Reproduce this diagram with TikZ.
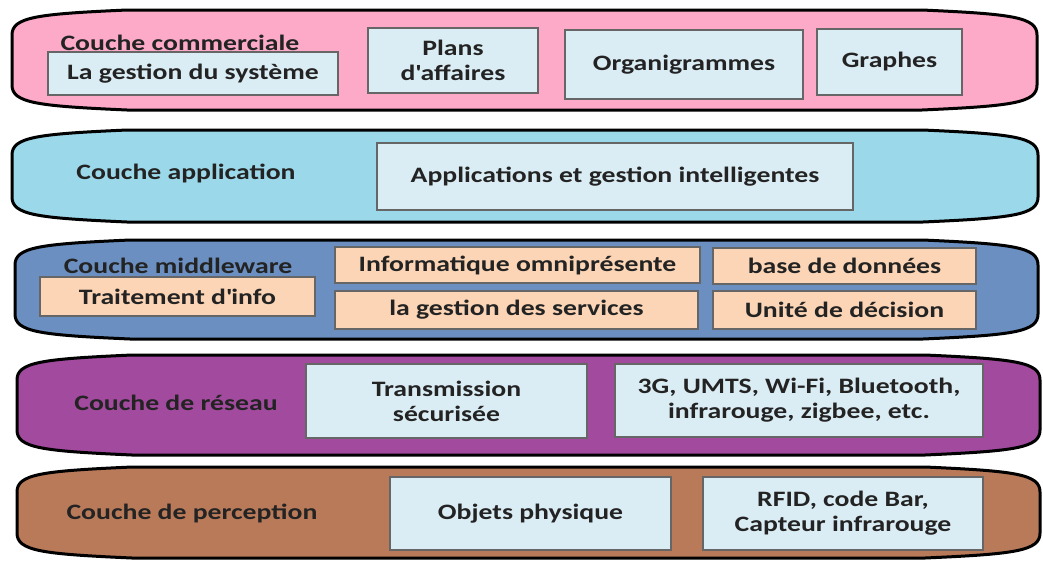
\documentclass[tikz,border=0pt]{standalone}
\usepackage{fontspec}
\setmainfont{Carlito}[FakeStretch=1.26]
\definecolor{pinkband}{RGB}{252,170,200}
\definecolor{cyanband}{RGB}{155,216,233}
\definecolor{blueband}{RGB}{106,143,192}
\definecolor{purpleband}{RGB}{162,74,158}
\definecolor{brownband}{RGB}{185,122,90}
\definecolor{lightbox}{RGB}{219,237,244}
\definecolor{peachbox}{RGB}{251,213,181}
\definecolor{txt}{RGB}{35,35,35}
\newcommand\bandshape[4]{% L T R B
  (#1+115,#2) -- (#3-115,#2)
  .. controls (#3-25,#2+4) and (#3,#2+7) .. (#3,#2+25)
  -- (#3,#4-25)
  .. controls (#3,#4-7) and (#3-25,#4-4) .. (#3-115,#4)
  -- (#1+115,#4)
  .. controls (#1+25,#4-4) and (#1,#4-7) .. (#1,#4-25)
  -- (#1,#2+25)
  .. controls (#1,#2+7) and (#1+25,#2+4) .. cycle}
\begin{document}
\begin{tikzpicture}[x=1pt,y=-1pt,
  band/.style={draw=black, line width=3pt, line join=round},
  boxbase/.style={draw=black!60, line width=1.3pt, inner sep=0pt, align=center,
     font=\fontsize{22}{25}\selectfont\bfseries, text=txt},
  lbox/.style={boxbase, fill=lightbox},
  pbox/.style={boxbase, fill=peachbox},
  lab/.style={inner sep=0pt, font=\fontsize{22}{25}\selectfont\bfseries, text=txt}]
\useasboundingbox (0,0) rectangle (1043,563);

% bands
\fill[pinkband] \bandshape{12}{10}{1037}{110};
\draw[band] \bandshape{12}{10}{1037}{110};
\fill[cyanband] \bandshape{12}{130}{1038}{222};
\draw[band] \bandshape{12}{130}{1038}{222};
\fill[blueband] \bandshape{15}{240}{1038}{339};
\draw[band] \bandshape{15}{240}{1038}{339};
\fill[purpleband] \bandshape{17}{355}{1040}{455};
\draw[band] \bandshape{17}{355}{1040}{455};
\fill[brownband] \bandshape{17}{467}{1040}{558};
\draw[band] \bandshape{17}{467}{1040}{558};

% couche commerciale
\node[lab] (lcom) at (180,43) {Couche commerciale};
\node[lbox, minimum width=290pt, minimum height=43pt] (gs) at (193,73.5) {La gestion du système};
\node[lbox, minimum width=170pt, minimum height=65pt] (pa) at (453,60.5) {Plans\\d\textquotesingle affaires};
\node[lbox, minimum width=238pt, minimum height=69pt] (org) at (684,64.5) {Organigrammes};
\node[lbox, minimum width=145pt, minimum height=66pt] (gra) at (889.5,62) {Graphes};

% couche application
\node[lab] (lapp) at (186,173) {Couche application};
\node[lbox, minimum width=476pt, minimum height=67pt] (app) at (615,176.5) {Applications et gestion intelligentes};

% couche middleware
\node[lab] (lmid) at (178,266) {Couche middleware};
\node[pbox, minimum width=275pt, minimum height=39pt] (ti) at (177.5,296.5) {Traitement d\textquotesingle info};
\node[pbox, minimum width=365pt, minimum height=36pt] (io) at (517.5,265) {Informatique omniprésente};
\node[pbox, minimum width=363pt, minimum height=38pt] (gds) at (516.5,310) {la gestion des services};
\node[pbox, minimum width=263pt, minimum height=36pt] (bdd) at (844.5,266) {base de données};
\node[pbox, minimum width=263pt, minimum height=38pt] (ud) at (844.5,310) {Unité de décision};

% couche de reseau
\node[lab] (lres) at (176,403) {Couche de réseau};
\node[lbox, minimum width=281pt, minimum height=74pt] (ts) at (446.5,401) {Transmission\\sécurisée};
\node[lbox, minimum width=368pt, minimum height=73pt] (tech) at (799,400.5) {3G, UMTS, Wi-Fi, Bluetooth,\\infrarouge, zigbee, etc.};

% couche de perception
\node[lab] (lper) at (192,513) {Couche de perception};
\node[lbox, minimum width=281pt, minimum height=73pt] (op) at (530.5,513.5) {Objets physique};
\node[lbox, minimum width=280pt, minimum height=73pt] (rfid) at (843,513.5) {RFID, code Bar,\\Capteur infrarouge};
\end{tikzpicture}
\end{document}
